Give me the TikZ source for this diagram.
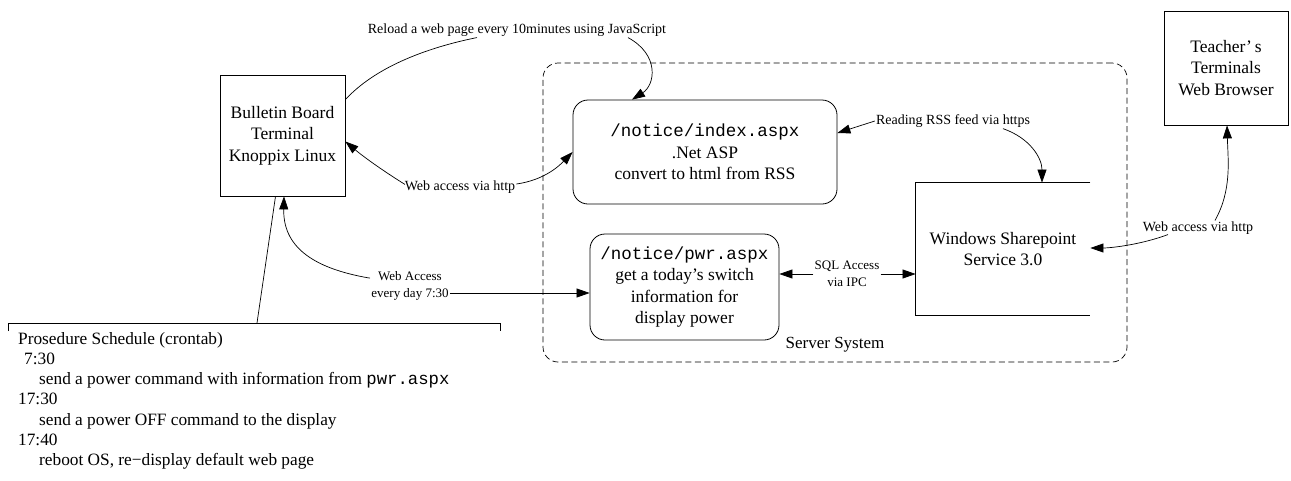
\documentclass[tikz,border=0pt]{standalone}
\usepackage{fontspec}
\setmainfont{Liberation Serif}
\setmonofont{Liberation Mono}
\usetikzlibrary{arrows.meta,calc}
\begin{document}
\begin{tikzpicture}[x=1pt,y=-1pt,
  arr/.style={-{Triangle[length=13pt,width=9pt]}},
  box/.style={draw,line width=0.8pt,align=center,inner sep=0pt,font=\fontsize{17.5}{21.5}\selectfont},
  rbox/.style={box,rounded corners=15pt},
  lab/.style={align=center,inner sep=1pt,font=\fontsize{14}{17}\selectfont},
  slab/.style={align=center,inner sep=1pt,font=\fontsize{13}{17.5}\selectfont},
  line/.style={line width=0.7pt}]
\useasboundingbox (0,0) rectangle (1291,480);
% server system container
\node[draw,dash pattern=on 6pt off 3.5pt,line width=0.7pt,rounded corners=15pt,minimum width=584pt,minimum height=299pt,inner sep=0pt] (server) at (835,212.5) {};
\node[font=\fontsize{17}{20}\selectfont,inner sep=0pt] (srvlab) at (835,345) {Server System};
% boxes
\node[box,minimum width=125pt,minimum height=121pt] (bb) at (282.5,135.5) {Bulletin Board\\Terminal\\Knoppix Linux};
\node[rbox,minimum width=264pt,minimum height=104pt] (index) at (705,152) {{\ttfamily /notice/index.aspx}\\.Net ASP\\convert to html from RSS};
\node[rbox,minimum width=189pt,minimum height=106pt] (pwr) at (684.5,287) {{\ttfamily /notice/pwr.aspx}\\get a today’s switch\\information for\\display power};
\node[box,draw=none,minimum width=174pt,minimum height=132pt] (sp) at (1003,249) {Windows Sharepoint\\Service 3.0};
\draw[line] (sp.north east) -- (sp.north west) -- (sp.south west) -- (sp.south east);
\node[box,minimum width=124pt,minimum height=114pt] (teacher) at (1226,68) {Teacher’\,s\\Terminals\\Web Browser};
% crontab bracket and text
\coordinate (cronl) at (8,331);
\coordinate (cronr) at (500,331);
\coordinate (crontop) at (257,323);
\draw[line] (cronl) -- (8,323) -- (500,323) -- (cronr);
\node[anchor=north west,align=left,inner sep=0pt,font=\fontsize{17.3}{20.2}\selectfont] (cron) at (18,332)
 {Prosedure Schedule (crontab)\\
  \hspace*{6pt}7:30\\
  \hspace*{21pt}send a power command with information from {\ttfamily pwr.aspx}\\
  17:30\\
  \hspace*{21pt}send a power OFF command to the display\\
  17:40\\
  \hspace*{21pt}reboot OS, re−display default web page};
\draw[line] (crontop) -- ([xshift=-7pt]bb.south);
% labels
\node[lab] (reload) at (517,30) {Reload a web page every 10minutes using JavaScript};
\node[lab] (wa1) at (460,187) {Web access via http};
\node[slab] (wa2) at (410,286) {Web Access\\every day 7:30};
\node[lab] (rss) at (953,121) {Reading RSS feed via https};
\node[slab] (sql) at (847,274) {SQL Access\\via IPC};
\node[lab] (wa3) at (1198,228) {Web access via http};
% connectors
\draw[line] ([yshift=-25pt]bb.north east) .. controls (380,62) and (440,45) .. ([xshift=-40pt]reload.south);
\draw[line,arr] ([xshift=111pt]reload.south) .. controls (660,55) and (655,85) .. ([xshift=-73pt]index.north);
\draw[line,arr] ([xshift=-55pt,yshift=-5pt]wa1.north) .. controls (385,172) and (365,158) .. ([yshift=-6pt]bb.east);
\draw[line,arr] ([yshift=3pt]wa1.east) .. controls (545,180) and (560,165) .. (index.west);
\draw[line,arr] ([xshift=-40pt,yshift=-8pt]wa2.north) .. controls (310,268) and (283,245) .. ([xshift=1.5pt]bb.south);
\draw[line,arr] ([yshift=-7pt]wa2.east) -- (pwr.west |- 0,293);
\draw[line,arr] (rss.west) -- ([yshift=19pt]index.east);
\draw[line,arr] ([xshift=50pt]rss.south) .. controls (1030,138) and (1042,158) .. ([xshift=39pt]sp.north);
\draw[line,arr] (sql.west) -- (pwr.east |- sql.west);
\draw[line,arr] (sql.east) -- (sp.west |- sql.east);
\draw[line,arr] ([xshift=17pt]wa3.north) .. controls (1232,190) and (1228,160) .. ([xshift=1pt]teacher.south);
\draw[line,arr] ([xshift=-30pt,yshift=1pt]wa3.south) .. controls (1140,245) and (1110,248) .. (sp.east |- 0,248);
\end{tikzpicture}
\end{document}
